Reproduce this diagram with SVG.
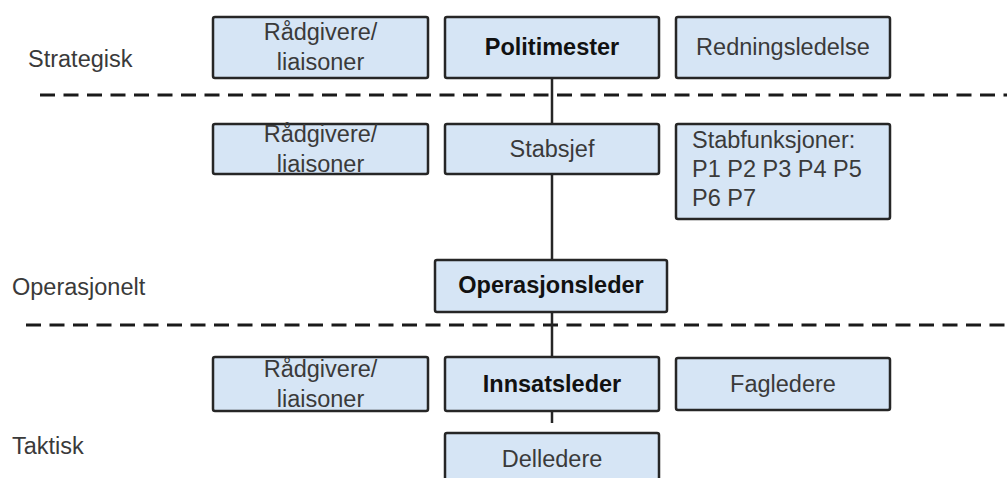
<svg xmlns="http://www.w3.org/2000/svg" width="1007" height="478" viewBox="0 0 1007 478">
<style>
.box{fill:#d6e5f5;stroke:#262626;stroke-width:2.5}
.t{font-family:"Liberation Sans",Arial,sans-serif;font-size:23.5px;fill:#3a3a3a;text-anchor:middle}
.b{font-weight:bold;fill:#111}
.lvl{font-family:"Liberation Sans",Arial,sans-serif;font-size:23.5px;fill:#3a3a3a}
.dash{stroke:#1a1a1a;stroke-width:3;stroke-dasharray:15 8.5;fill:none}
.conn{stroke:#262626;stroke-width:2.5;fill:none}
</style>
<rect width="1007" height="478" fill="#ffffff"/>
<g id="levels">
<text class="lvl" x="28" y="67">Strategisk</text>
<text class="lvl" x="12" y="295">Operasjonelt</text>
<text class="lvl" x="12" y="454">Taktisk</text>
</g>
<g id="dividers">
<line class="dash" x1="40" y1="95" x2="1007" y2="95"/>
<line class="dash" x1="26" y1="325" x2="1007" y2="325"/>
</g>
<g id="connectors">
<line class="conn" x1="552" y1="78" x2="552" y2="124"/>
<line class="conn" x1="552" y1="174" x2="552" y2="260"/>
<line class="conn" x1="552" y1="312" x2="552" y2="357"/>
<line class="conn" x1="552" y1="411" x2="552" y2="423"/>
</g>
<g id="radgivere1"><rect class="box" x="213" y="17" width="215" height="61" rx="2"/><text class="t" x="320.5" y="40">Rådgivere/</text><text class="t" x="320.5" y="70">liaisoner</text></g>
<g id="politimester"><rect class="box" x="445" y="17" width="214" height="61" rx="2"/><text class="t b" x="552" y="55">Politimester</text></g>
<g id="redningsledelse"><rect class="box" x="676" y="17" width="214" height="61" rx="2"/><text class="t" x="783" y="55">Redningsledelse</text></g>
<g id="radgivere2"><rect class="box" x="213" y="124" width="215" height="50" rx="2"/><text class="t" x="320.5" y="142">Rådgivere/</text><text class="t" x="320.5" y="172">liaisoner</text></g>
<g id="stabsjef"><rect class="box" x="445" y="124" width="214" height="50" rx="2"/><text class="t" x="552" y="157">Stabsjef</text></g>
<g id="stabfunksjoner"><rect class="box" x="676" y="124" width="214" height="95" rx="2"/><text class="t" style="text-anchor:start" x="692" y="148">Stabfunksjoner:</text><text class="t" style="text-anchor:start" x="692" y="177">P1 P2 P3 P4 P5</text><text class="t" style="text-anchor:start" x="692" y="206">P6 P7</text></g>
<g id="operasjonsleder"><rect class="box" x="435" y="260" width="232" height="52" rx="2"/><text class="t b" x="551" y="293">Operasjonsleder</text></g>
<g id="radgivere3"><rect class="box" x="213" y="357" width="215" height="54" rx="2"/><text class="t" x="320.5" y="377">Rådgivere/</text><text class="t" x="320.5" y="407">liaisoner</text></g>
<g id="innsatsleder"><rect class="box" x="445" y="357" width="214" height="54" rx="2"/><text class="t b" x="552" y="392">Innsatsleder</text></g>
<g id="fagledere"><rect class="box" x="676" y="358" width="214" height="52" rx="2"/><text class="t" x="783" y="392">Fagledere</text></g>
<g id="delledere"><rect class="box" x="445" y="433" width="214" height="60" rx="2"/><text class="t" x="552" y="467">Delledere</text></g>
</svg>
